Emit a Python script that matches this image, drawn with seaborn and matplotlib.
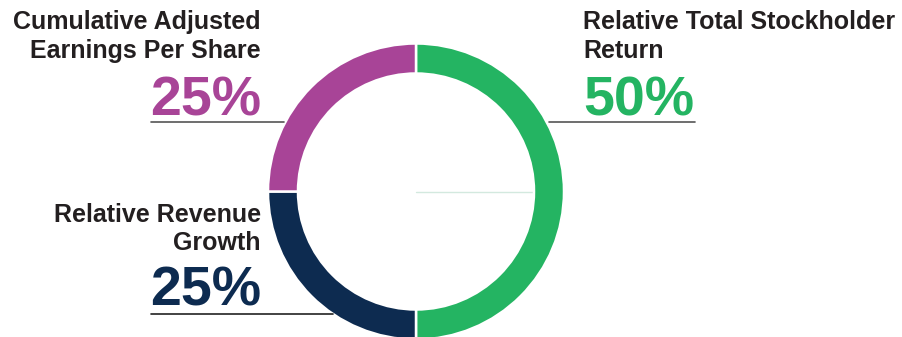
import matplotlib
matplotlib.use("Agg")
import matplotlib.pyplot as plt
import seaborn as sns

# ---- data ----
categories = ["Relative Total Stockholder Return", "Relative Revenue Growth",
              "Cumulative Adjusted Earnings Per Share"]
weights = [50, 25, 25]
pct_labels = ["50%", "25%", "25%"]
colors = ["#24B462", "#0D2B50", "#A84497"]

sns.set_theme(style="white")
plt.rcParams['font.family'] = ['Liberation Sans', 'DejaVu Sans']

W, H = 902, 337
fig = plt.figure(figsize=(W / 100, H / 100), dpi=100)
ax = fig.add_axes([0, 0, 1, 1])

def Y(y):  # convert top-down pixel to bottom-up
    return H - y

cx, cy, R, ring = 416, 191.5, 148, 30
ax.pie(weights, colors=colors, startangle=90, counterclock=False,
       center=(cx, Y(cy)), radius=R,
       wedgeprops=dict(width=ring, edgecolor="white", linewidth=1.8))

# faint radius line
ax.plot([cx, cx + R - ring], [Y(cy), Y(cy)], color="#d3e9df", lw=1, zorder=0)

ax.set_xlim(0, W)
ax.set_ylim(0, H)
ax.set_aspect("equal")
ax.axis("off")

txt = "#231F20"
fs, big = 18, 40
line_col = "#555555"

# top-left
ax.text(261, Y(29), "Cumulative Adjusted", ha="right", va="baseline",
        fontsize=fs, fontweight="bold", color=txt)
ax.text(261, Y(58), "Earnings Per Share", ha="right", va="baseline",
        fontsize=fs, fontweight="bold", color=txt)
ax.text(261, Y(115), pct_labels[2], ha="right", va="baseline",
        fontsize=big, fontweight="bold", color=colors[2])
ax.plot([151, 284], [Y(122), Y(122)], color=line_col, lw=1.2)

# right
ax.text(583, Y(29), "Relative Total Stockholder", ha="left", va="baseline",
        fontsize=fs, fontweight="bold", color=txt)
ax.text(583, Y(58), "Return", ha="left", va="baseline",
        fontsize=fs, fontweight="bold", color=txt)
ax.text(583, Y(115), pct_labels[0], ha="left", va="baseline",
        fontsize=big, fontweight="bold", color=colors[0])
ax.plot([549, 695], [Y(122), Y(122)], color=line_col, lw=1.2)

# bottom-left
ax.text(261, Y(222), "Relative Revenue", ha="right", va="baseline",
        fontsize=fs, fontweight="bold", color=txt)
ax.text(261, Y(250), "Growth", ha="right", va="baseline",
        fontsize=fs, fontweight="bold", color=txt)
ax.text(261, Y(306), pct_labels[1], ha="right", va="baseline",
        fontsize=big, fontweight="bold", color=colors[1])
ax.plot([151, 333], [Y(314), Y(314)], color="#222222", lw=1.2)

fig.savefig("out.png", dpi=100, facecolor="white")
